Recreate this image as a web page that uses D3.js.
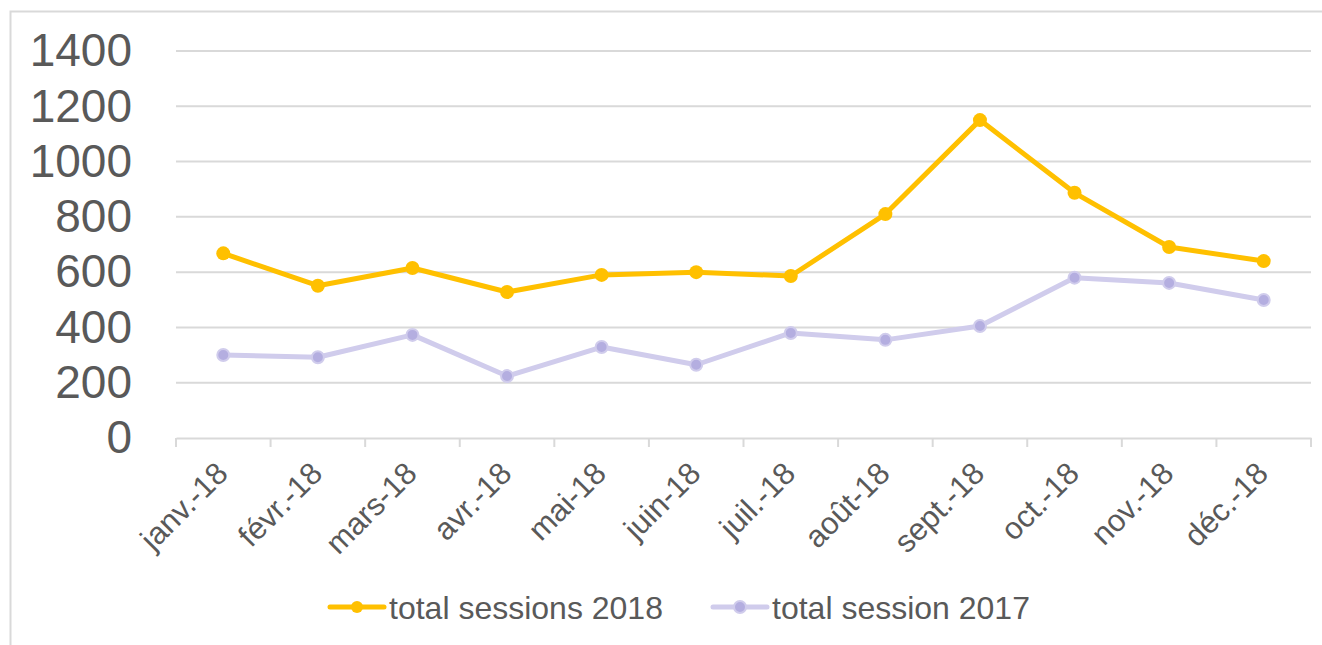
<!DOCTYPE html>
<html>
<head>
<meta charset="utf-8">
<script src="https://cdn.jsdelivr.net/npm/d3@7"></script>
<style>
body { margin: 0; background: #fff; }
text { font-family: "Liberation Sans", Arial, sans-serif; fill: #595959; }
</style>
</head>
<body>
<svg id="chart"></svg>
<script>
var width = 1322, height = 645

var months = ["janv.-18", "févr.-18", "mars-18", "avr.-18", "mai-18", "juin-18",
    "juil.-18", "août-18", "sept.-18", "oct.-18", "nov.-18", "déc.-18"]
var sessions2018 = [668, 551, 615, 528, 590, 600, 586, 810, 1150, 887, 691, 640]
var sessions2017 = [300, 292, 373, 224, 329, 265, 380, 355, 405, 580, 561, 499]
var yTicks = [0, 200, 400, 600, 800, 1000, 1200, 1400]
var seriesNames = ["total sessions 2018", "total session 2017"]

var svg = d3.select("#chart")
    .attr("width", width)
    .attr("height", height)

// outer frame
svg.append("rect")
    .attr("x", 10.5).attr("y", 11.5)
    .attr("width", width).attr("height", height)
    .attr("fill", "none")
    .attr("stroke", "#d9d9d9")
    .attr("stroke-width", 2)

var plotLeft = 176, plotRight = 1311, plotTop = 51, plotBottom = 438

var x = d3.scaleBand()
    .domain(months)
    .range([plotLeft, plotRight])

var y = d3.scaleLinear()
    .domain([0, 1400])
    .range([plotBottom, plotTop])

// grid
svg.append("g")
    .selectAll("line")
    .data(yTicks.slice(1))
    .enter()
    .append("line")
    .attr("x1", plotLeft).attr("x2", plotRight)
    .attr("y1", d => y(d)).attr("y2", d => y(d))
    .attr("stroke", "#d9d9d9")
    .attr("stroke-width", 2)

// y axis labels
var yAxis = svg.append("g")
    .attr("transform", "translate(" + (plotLeft - 44) + ",0)")
    .call(d3.axisLeft(y).tickValues(yTicks).tickFormat(d3.format("d")).tickSize(0).tickPadding(0))
yAxis.select(".domain").remove()
yAxis.selectAll("text")
    .style("font-size", "46px")
    .attr("fill", "#595959")
    .attr("font-family", "Liberation Sans, Arial, sans-serif")

// x axis
var xAxis = svg.append("g")
    .attr("transform", "translate(0," + plotBottom + ")")
    .call(d3.axisBottom(x).tickSize(0).tickFormat(""))
xAxis.select(".domain")
    .attr("stroke", "#d9d9d9")
    .attr("stroke-width", 2)

// tick marks at category boundaries
svg.append("g")
    .selectAll("line")
    .data(months.map(m => x(m)).concat([plotRight]))
    .enter()
    .append("line")
    .attr("x1", d => d).attr("x2", d => d)
    .attr("y1", plotBottom).attr("y2", plotBottom + 9)
    .attr("stroke", "#d9d9d9")
    .attr("stroke-width", 2)

svg.append("g")
    .selectAll("text")
    .data(months)
    .enter()
    .append("text")
    .attr("transform", d => "translate(" + (x(d) + x.bandwidth() / 2 - 9) + "," + (plotBottom + 22) + ") rotate(-45)")
    .attr("text-anchor", "end")
    .attr("dy", "0.7em")
    .style("font-size", "31px")
    .text(d => d)

var cx = d => x(d) + x.bandwidth() / 2

var line = d3.line()
    .x((d, i) => cx(months[i]))
    .y(d => y(d))

// 2017 series
svg.append("path")
    .datum(sessions2017)
    .attr("d", line)
    .attr("fill", "none")
    .attr("stroke", "#d0ccec")
    .attr("stroke-width", 5)
    .attr("stroke-linejoin", "round")
svg.append("g")
    .selectAll("circle")
    .data(sessions2017)
    .enter()
    .append("circle")
    .attr("cx", (d, i) => cx(months[i]))
    .attr("cy", d => y(d))
    .attr("r", 6)
    .attr("fill", "#b4aee0")
    .attr("stroke", "#d0ccec")
    .attr("stroke-width", 2)

// 2018 series
svg.append("path")
    .datum(sessions2018)
    .attr("d", line)
    .attr("fill", "none")
    .attr("stroke", "#ffc000")
    .attr("stroke-width", 5)
    .attr("stroke-linejoin", "round")
svg.append("g")
    .selectAll("circle")
    .data(sessions2018)
    .enter()
    .append("circle")
    .attr("cx", (d, i) => cx(months[i]))
    .attr("cy", d => y(d))
    .attr("r", 7)
    .attr("fill", "#ffc000")

// legend
var legend = [
    {name: seriesNames[0], line: "#ffc000", fill: "#ffc000", stroke: "none", x: 330},
    {name: seriesNames[1], line: "#d0ccec", fill: "#b4aee0", stroke: "#d0ccec", x: 713}
]
var lg = svg.append("g").selectAll("g")
    .data(legend)
    .enter()
    .append("g")
    .attr("transform", d => "translate(" + d.x + ",607)")
lg.append("line")
    .attr("x1", 0).attr("x2", 54)
    .attr("stroke", d => d.line)
    .attr("stroke-width", 5)
    .attr("stroke-linecap", "round")
lg.append("circle")
    .attr("cx", 27)
    .attr("r", 6)
    .attr("fill", d => d.fill)
    .attr("stroke", d => d.stroke)
    .attr("stroke-width", 2)
lg.append("text")
    .attr("x", 59)
    .attr("dy", "0.36em")
    .style("font-size", "32px")
    .text(d => d.name)
</script>
</body>
</html>
